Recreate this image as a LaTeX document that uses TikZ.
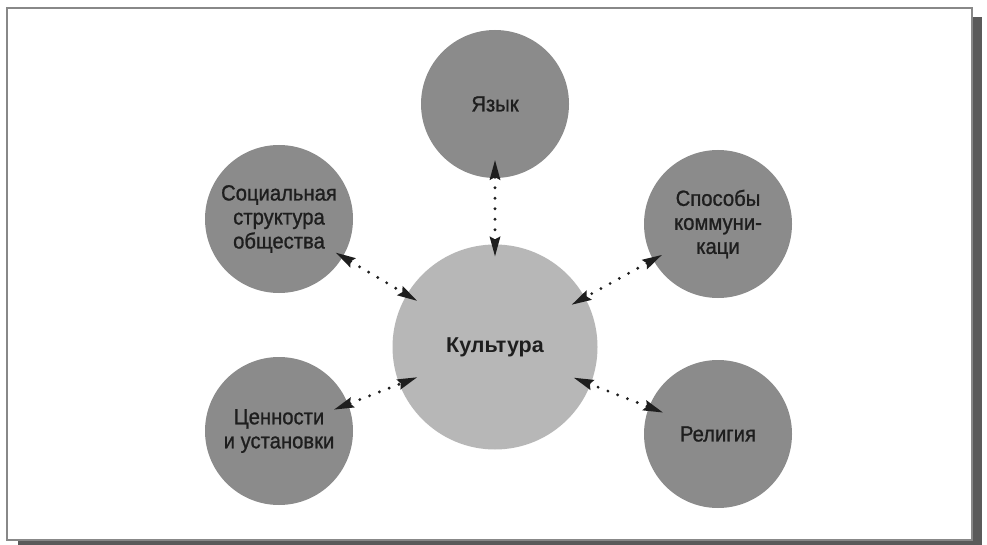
\documentclass[tikz,border=0pt]{standalone}
\usepackage{fontspec}
\setmainfont{Liberation Sans}
\newfontfamily\lblfont{Liberation Sans}[FakeStretch=0.92,FakeBold=1]
\usetikzlibrary{arrows.meta}
\definecolor{outerfill}{HTML}{8B8B8B}
\definecolor{centerfill}{HTML}{B7B7B7}
\definecolor{textc}{HTML}{1E1E1E}
\definecolor{framec}{HTML}{888888}
\definecolor{shadowc}{HTML}{5A5A5A}
\definecolor{arrowc}{HTML}{1E1E1E}
\begin{document}
\begin{tikzpicture}[x=1pt,y=-1pt,
  outer/.style={circle, fill=outerfill, minimum size=148pt, inner sep=0pt,
    align=center, text=textc, font=\lblfont\fontsize{22}{24}\selectfont},
  central/.style={circle, fill=centerfill, minimum size=205pt, inner sep=0pt,
    text=textc, font=\fontsize{21.5}{25}\selectfont\bfseries},
  conn/.style={draw=arrowc, line width=3.2pt, line cap=round,
    dash pattern=on 0pt off 10.5pt,
    {Stealth[length=20pt,width=11pt,inset=3pt,line width=0pt,fill=arrowc]}-{Stealth[length=20pt,width=11pt,inset=3pt,line width=0pt,fill=arrowc]}}
]
\useasboundingbox (0,0) rectangle (987,545);
% frame with shadow
\fill[shadowc] (18,17) rectangle (982,545);
\draw[framec, fill=white, line width=1.5pt] (7,8) rectangle (972,540);

% nodes
\node[central] (cult) at (495,347) {Культура};
\node[outer] (lang) at (495,104) {Язык};
\node[outer] (soc) at (279,219) {Социальная\\структура\\общества};
\node[outer] (comm) at (718,224) {Способы\\коммуни-\\каци};
\node[outer] (val) at (279,431) {Ценности\\и установки};
\node[outer] (rel) at (718,434) {Религия};

% connectors
\draw[conn, shorten <=-18pt, shorten >=-12pt] (lang) -- (cult);
\draw[conn, shorten <=-8pt, shorten >=-12pt] (soc) -- (cult);
\draw[conn, shorten <=-10pt, shorten >=-15pt] (comm) -- (cult);
\draw[conn, shorten <=-15pt, shorten >=-19pt] (val) -- (cult);
\draw[conn, shorten <=-15pt, shorten >=-18pt] (rel) -- (cult);
\end{tikzpicture}
\end{document}
